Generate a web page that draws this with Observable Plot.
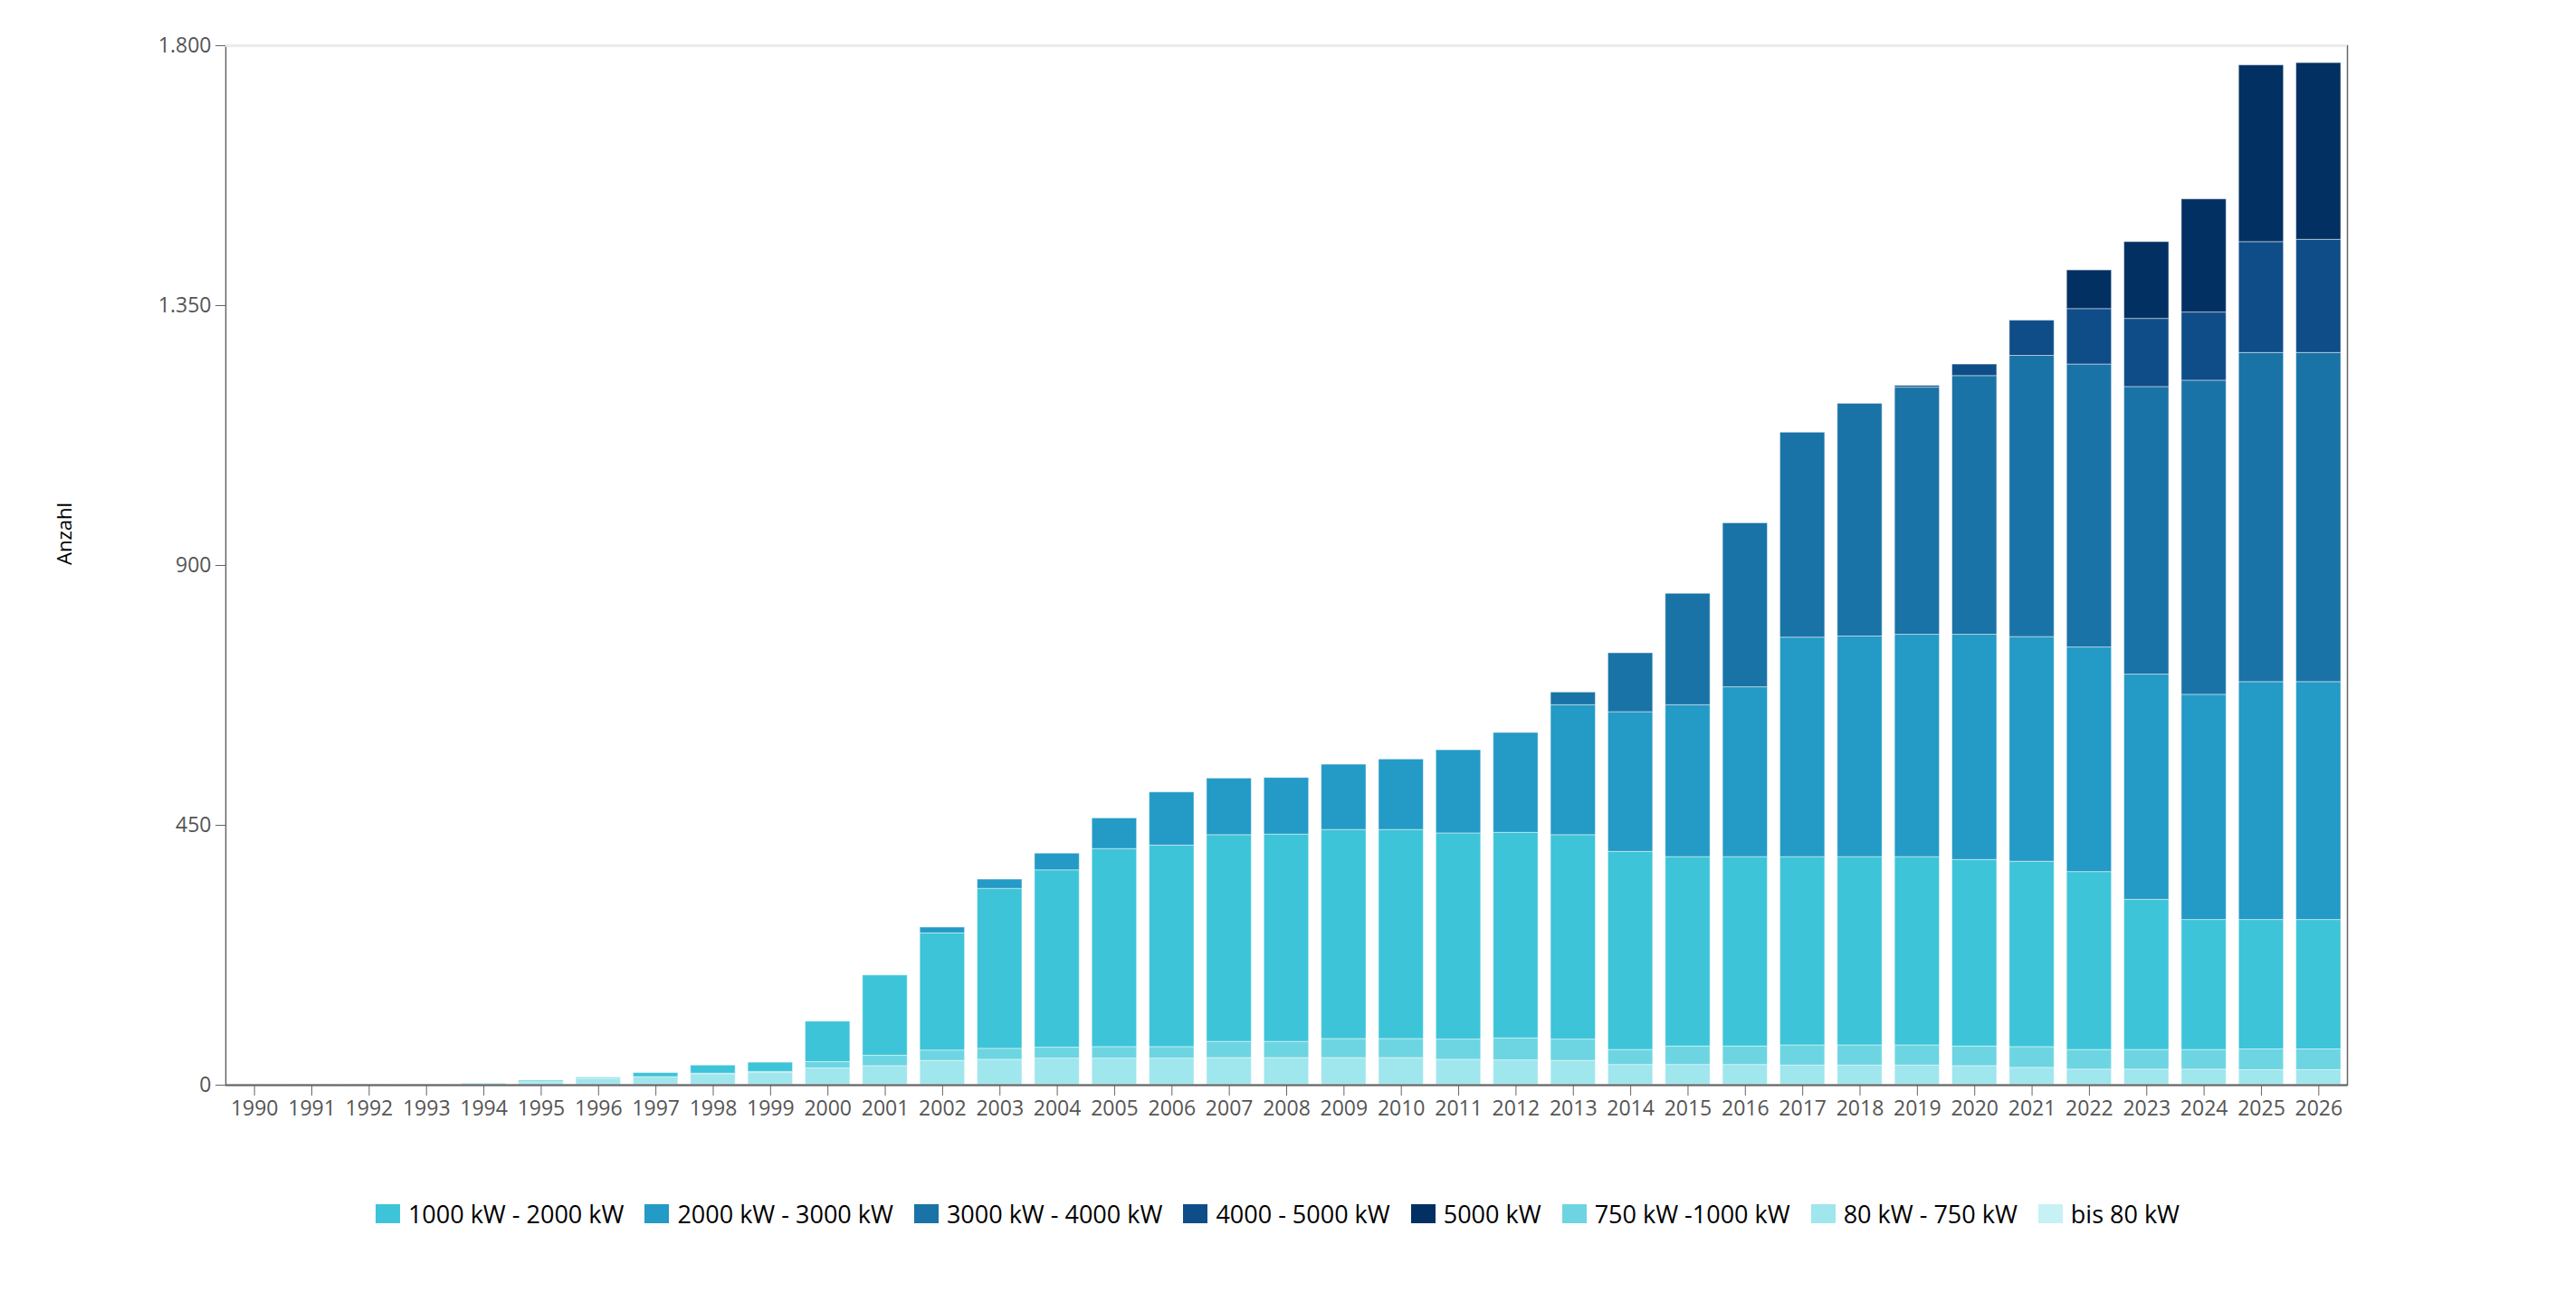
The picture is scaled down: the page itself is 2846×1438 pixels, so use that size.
<!DOCTYPE html>
<html>
<head>
<meta charset="utf-8">
<script src="https://cdn.jsdelivr.net/npm/d3@7"></script>
<script src="https://cdn.jsdelivr.net/npm/@observablehq/plot@0.6"></script>
<style>
  body { margin: 0; background: #fff; }
  #chart { width: 2846px; }
  #chart .lg-swatches { font-family: "Open Sans", sans-serif; font-size: 27px; color: #000; margin: 32px 0 0 0; justify-content: center; }
  #chart .lg-swatches .lg-swatch { margin-right: 23px; }
  #chart .lg-swatches .lg-swatch > svg { margin-right: 9px; }
</style>
</head>
<body>
<div id="chart"></div>
<script>
const years = [1990,1991,1992,1993,1994,1995,1996,1997,1998,1999,2000,2001,2002,2003,2004,2005,2006,2007,2008,2009,2010,2011,2012,2013,2014,2015,2016,2017,2018,2019,2020,2021,2022,2023,2024,2025,2026];

// legend order
const classes = ["1000 kW - 2000 kW","2000 kW - 3000 kW","3000 kW - 4000 kW","4000 - 5000 kW","5000 kW","750 kW -1000 kW","80 kW - 750 kW","bis 80 kW"];
const colors  = ["#3dc4d8","#249ac6","#1a73a6","#0f4d88","#033063","#6dd5e1","#9fe6ed","#c6f1f5"];
// stacking order, bottom to top
const stackOrder = ["bis 80 kW","80 kW - 750 kW","750 kW -1000 kW","1000 kW - 2000 kW","2000 kW - 3000 kW","3000 kW - 4000 kW","4000 - 5000 kW","5000 kW"];

const bis80     = [0,1,1,1,1,1,1,1,1,1,1,1,1,1,1,1,1,1,1,1,1,1,1,1,1,1,1,1,1,1,1,1,1,1,1,1,1];
const kw80_750  = [0,0,0,0,2,4,10,13,18,20,28,32,41,43,45,45,45,46,46,46,46,43,42,41,34,34,34,33,33,33,32,29,26,26,26,25,25];
const kw750_1000= [0,0,0,0,0,3,2,0,1,2,11,18,18,19,19,20,20,28,28,33,33,35,38,37,26,32,32,35,35,35,34,36,34,34,34,36,36];
const kw1000_2000=[0,0,0,0,0,0,0,7,14,16,70,139,203,277,307,343,349,358,359,362,362,357,356,354,343,328,328,326,326,326,323,321,308,260,225,224,224];
const kw2000_3000=[0,0,0,0,0,0,0,0,0,0,0,0,10,16,29,53,92,98,98,113,122,144,173,225,242,263,294,380,382,385,390,389,389,390,390,412,412];
const kw3000_4000=[0,0,0,0,0,0,0,0,0,0,0,0,0,0,0,0,0,0,0,0,0,0,0,22,102,193,284,355,403,428,448,487,490,498,544,570,570];
const kw4000_5000=[0,0,0,0,0,0,0,0,0,0,0,0,0,0,0,0,0,0,0,0,0,0,0,0,0,0,0,0,0,3,20,61,96,118,118,192,196];
const kw5000    = [0,0,0,0,0,0,0,0,0,0,0,0,0,0,0,0,0,0,0,0,0,0,0,0,0,0,0,0,0,0,0,0,67,133,196,306,306];

const yTicks = [0, 450, 900, 1350, 1800];

const seriesByClass = {
  "bis 80 kW": bis80,
  "80 kW - 750 kW": kw80_750,
  "750 kW -1000 kW": kw750_1000,
  "1000 kW - 2000 kW": kw1000_2000,
  "2000 kW - 3000 kW": kw2000_3000,
  "3000 kW - 4000 kW": kw3000_4000,
  "4000 - 5000 kW": kw4000_5000,
  "5000 kW": kw5000
};

const data = [];
for (const cls of stackOrder) {
  seriesByClass[cls].forEach((v, i) => data.push({year: years[i], cls, value: v}));
}

const fmt = d => d3.format(",")(d).replace(/,/g, ".");

const plot = Plot.plot({
  width: 2846,
  height: 1290,
  marginLeft: 249,
  marginRight: 253,
  marginTop: 50,
  marginBottom: 92,
  style: {fontFamily: "'Open Sans', sans-serif", fontSize: "23px", color: "#555", background: "#fff"},
  x: {type: "band", domain: years, paddingInner: 0.22, paddingOuter: 0.11, round: false, label: null},
  y: {domain: [0, 1800], label: null},
  color: {domain: classes, range: colors},
  marks: [
    Plot.barY(data, {x: "year", y: "value", fill: "cls", order: stackOrder, stroke: "#ffffff", strokeOpacity: 0.45, strokeWidth: 1}),
    Plot.frame({stroke: "#666", strokeWidth: 1.5}),
    Plot.ruleY([1800], {stroke: "#efefef", strokeWidth: 2.5}),
    Plot.ruleY([0], {stroke: "#666", strokeWidth: 2}),
    Plot.axisY({ticks: yTicks, tickFormat: fmt, tickSize: 11, tickPadding: 5, label: null, stroke: "#666"}),
    Plot.axisX({tickFormat: d => String(d), tickSize: 12, tickPadding: 5, label: null, stroke: "#666"}),
    Plot.text(["Anzahl"], {frameAnchor: "left", dx: -178, dy: -35, rotate: -90, textAnchor: "middle", fontSize: 22, fill: "#000"})
  ]
});

const legend = Plot.legend({
  color: {domain: classes, range: colors, legend: "swatches"},
  swatchWidth: 27,
  swatchHeight: 21,
  className: "lg"
});

const chart = document.getElementById("chart");
chart.appendChild(plot);
chart.appendChild(legend);
</script>
</body>
</html>
